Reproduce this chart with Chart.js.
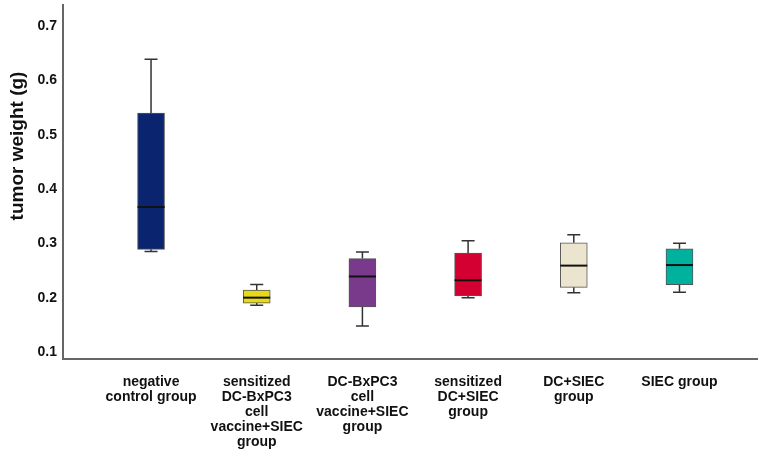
<!DOCTYPE html>
<html>
<head>
<meta charset="utf-8">
<script src="https://cdn.jsdelivr.net/npm/chart.js@4"></script>
<style>
  html, body { margin: 0; padding: 0; background: #fff; }
  canvas { display: block; }
</style>
</head>
<body>
<canvas id="chart" width="758" height="456"></canvas>
<script>
// groups (multi-line tick labels)
const groups = [
  ['negative', 'control group'],
  ['sensitized', 'DC-BxPC3', 'cell', 'vaccine+SIEC', 'group'],
  ['DC-BxPC3', 'cell', 'vaccine+SIEC', 'group'],
  ['sensitized', 'DC+SIEC', 'group'],
  ['DC+SIEC', 'group'],
  ['SIEC group']
];
// box plot stats (g)
const mins    = [0.285, 0.186, 0.148, 0.200, 0.209, 0.210];
const q1s     = [0.289, 0.190, 0.183, 0.203, 0.219, 0.224];
const medians = [0.367, 0.200, 0.239, 0.232, 0.259, 0.260];
const q3s     = [0.540, 0.214, 0.272, 0.282, 0.301, 0.290];
const maxs    = [0.639, 0.224, 0.284, 0.305, 0.316, 0.300];
const yTicks  = [0.1, 0.2, 0.3, 0.4, 0.5, 0.6, 0.7];
const colors  = ['#0b2470', '#e6d91c', '#7a3a8c', '#d50032', '#ebe5cf', '#00b29e'];

const FONT = '"Liberation Sans", Arial, sans-serif';

// whiskers + medians drawn through the chart scales
const boxExtras = {
  id: 'boxExtras',
  beforeDatasetsDraw(chart){
    const {ctx, scales:{x, y}} = chart;
    ctx.save();
    ctx.strokeStyle = '#333';
    ctx.lineWidth = 1.5;
    groups.forEach((g, i) => {
      const px = x.getPixelForValue(i);
      const segs = [[q3s[i], maxs[i]], [q1s[i], mins[i]]];
      segs.forEach(([from, to]) => {
        const y0 = y.getPixelForValue(from), y1 = y.getPixelForValue(to);
        ctx.beginPath();
        ctx.moveTo(px, y0); ctx.lineTo(px, y1);
        ctx.moveTo(px - 6.5, y1); ctx.lineTo(px + 6.5, y1);
        ctx.stroke();
      });
    });
    ctx.restore();
  },
  afterDatasetsDraw(chart){
    const {ctx, scales:{y}} = chart;
    const meta = chart.getDatasetMeta(0);
    ctx.save();
    ctx.strokeStyle = '#111';
    ctx.lineWidth = 2;
    meta.data.forEach((bar, i) => {
      const half = bar.width / 2;
      const py = y.getPixelForValue(medians[i]);
      ctx.beginPath();
      ctx.moveTo(bar.x - half, py); ctx.lineTo(bar.x + half, py);
      ctx.stroke();
    });
    // y axis title
    ctx.fillStyle = '#111';
    ctx.font = 'bold 19px ' + FONT;
    ctx.textAlign = 'center';
    ctx.textBaseline = 'middle';
    ctx.translate(18, 146);
    ctx.rotate(-Math.PI / 2);
    ctx.fillText('tumor weight (g)', 0, 0);
    ctx.restore();
  }
};

new Chart(document.getElementById('chart'), {
  type: 'bar',
  data: {
    datasets: [{
      data: groups.map((g, i) => ({ x: i, y: [q1s[i], q3s[i]] })),
      backgroundColor: colors,
      borderColor: '#555',
      borderWidth: 1,
      borderSkipped: false,
      barThickness: 27
    }]
  },
  options: {
    responsive: false,
    devicePixelRatio: 1,
    animation: false,
    layout: { padding: { top: 5, left: 0, right: 0, bottom: 0 } },
    plugins: { legend: { display: false }, tooltip: { enabled: false } },
    scales: {
      x: {
        type: 'linear',
        offset: false,
        min: -0.833,
        max: 5.743,
        grid: { display: false, drawTicks: false },
        border: { color: '#666', width: 2 },
        afterBuildTicks: s => { s.ticks = groups.map((g, i) => ({ value: i })); },
        afterFit: s => { s.height = 97; s.paddingLeft = 0; s.paddingRight = 0; },
        ticks: {
          autoSkip: false,
          maxRotation: 0,
          minRotation: 0,
          padding: 16,
          color: '#111',
          font: { family: FONT, size: 14, weight: 'bold', lineHeight: '15px' },
          callback: v => groups[v] || ''
        }
      },
      y: {
        min: 0.087,
        max: 0.739,
        grid: { display: false, drawTicks: false },
        border: { color: '#666', width: 2 },
        afterBuildTicks: s => { s.ticks = yTicks.map(v => ({ value: v })); },
        afterFit: s => { s.width = 63; s.paddingTop = 0; s.paddingBottom = 0; },
        ticks: {
          padding: 6,
          color: '#111',
          font: { family: FONT, size: 14, weight: 'bold' },
          callback: v => v.toFixed(1)
        }
      }
    }
  },
  plugins: [boxExtras]
});
</script>
</body>
</html>
